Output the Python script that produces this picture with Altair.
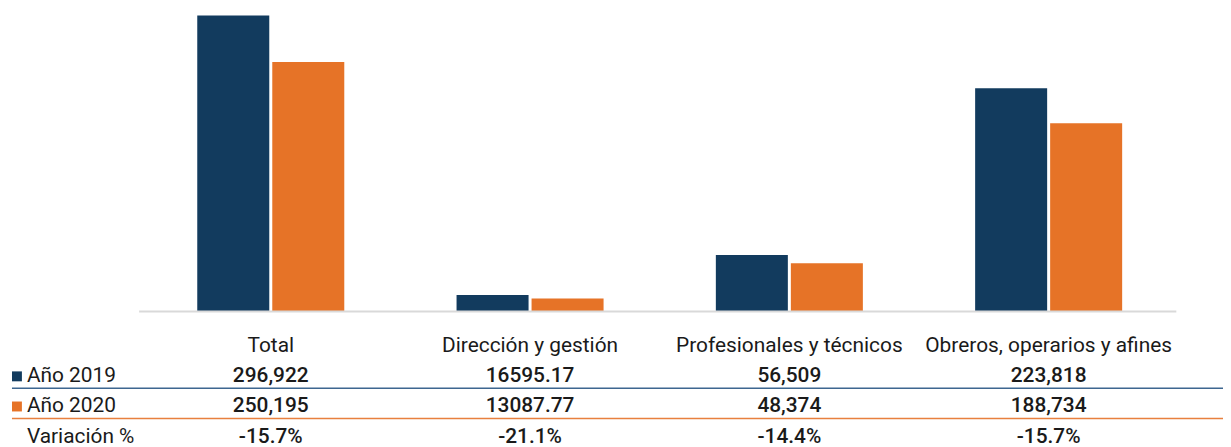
import altair as alt
import pandas as pd

cats = ["Total", "Dirección y gestión", "Profesionales y técnicos", "Obreros, operarios y afines"]
series = ["Año 2019", "Año 2020"]
v2019 = [296922, 16595.17, 56509, 223818]
v2020 = [250195, 13087.77, 48374, 188734]
lab2019 = ["296,922", "16595.17", "56,509", "223,818"]
lab2020 = ["250,195", "13087.77", "48,374", "188,734"]
variation = ["-15.7%", "-21.1%", "-14.4%", "-15.7%"]
rows = ["hdr", "Año 2019", "Año 2020", "Variación %"]

NAVY = "#123B5E"
ORANGE = "#E67327"
TXT = "#1a1a1a"
FONT = "Roboto"
FS = 21

bars_df = pd.DataFrame(
    [{"cat": c, "year": series[0], "value": v} for c, v in zip(cats, v2019)]
    + [{"cat": c, "year": series[1], "value": v} for c, v in zip(cats, v2020)]
)

hdr_df = pd.DataFrame([{"cat": c, "row": "hdr", "label": c} for c in cats])
vals_df = pd.DataFrame(
    [{"cat": c, "row": rows[1], "label": l} for c, l in zip(cats, lab2019)]
    + [{"cat": c, "row": rows[2], "label": l} for c, l in zip(cats, lab2020)]
    + [{"cat": c, "row": rows[3], "label": l} for c, l in zip(cats, variation)]
)

rowlab_df = pd.DataFrame({"row": rows[1:], "label": rows[1:]})
legend_df = pd.DataFrame({"row": series, "year": series})
lines_df = pd.DataFrame({"row": series, "year": series})

xscale = alt.Scale(domain=cats, range=[134, 1178], paddingInner=0.433, paddingOuter=0.2165)
x_enc = alt.X("cat:N", scale=xscale, axis=None, sort=cats)
color_scale = alt.Scale(domain=series, range=[NAVY, ORANGE])
line_scale = alt.Scale(domain=series, range=["#3D6690", "#E8803F"])

yq = alt.Y("value:Q", scale=alt.Scale(domain=[0, 300000], range=[304, 3], nice=False, zero=True), axis=None)

bars = alt.Chart(bars_df).mark_bar().encode(
    x=x_enc,
    xOffset=alt.XOffset("year:N", scale=alt.Scale(domain=series, paddingInner=0.04, paddingOuter=0)),
    y=yq,
    color=alt.Color("year:N", scale=color_scale, legend=None),
)

baseline = alt.Chart(pd.DataFrame({"value": [0]})).mark_rule(color="#D9D9D9", strokeWidth=2).encode(
    y=yq,
    x=alt.value(132),
    x2=alt.value(1176),
)

bar_layer = alt.layer(bars, baseline)

yrow = alt.Y("row:N", scale=alt.Scale(type="point", domain=rows, range=[339, 430], padding=0), axis=None)

hdr_text = alt.Chart(hdr_df).mark_text(font=FONT, fontSize=FS, color=TXT, baseline="middle", align="center").encode(
    x=x_enc,
    y=yrow,
    text="label:N",
)

val_text = alt.Chart(vals_df).mark_text(font=FONT, fontSize=FS, fontWeight=500, color=TXT, baseline="middle", align="center").encode(
    x=x_enc,
    y=yrow,
    text="label:N",
)

rowlabs = alt.Chart(rowlab_df).mark_text(font=FONT, fontSize=FS, color=TXT, baseline="middle", align="left").encode(
    x=alt.value(19),
    y=yrow,
    text="label:N",
)

squares = alt.Chart(legend_df).mark_point(shape="square", filled=True, size=100, opacity=1).encode(
    x=alt.value(9),
    y=yrow,
    color=alt.Color("year:N", scale=color_scale, legend=None),
)

lines = alt.Chart(lines_df).mark_rule(strokeWidth=1.5, yOffset=12).encode(
    x=alt.value(4),
    x2=alt.value(1223),
    y=yrow,
    color=alt.Color("year:N", scale=line_scale, legend=None),
)

table_layer = alt.layer(lines, hdr_text, val_text, rowlabs, squares).resolve_scale(color="independent")

chart = alt.layer(bar_layer, table_layer).resolve_scale(y="independent", color="independent").properties(
    width=1223,
    height=439,
    autosize=alt.AutoSizeParams(type="none"),
    padding=0,
    background="white",
).configure_view(stroke=None)

chart.save("out.html", embed_options={"renderer": "svg", "actions": False})
